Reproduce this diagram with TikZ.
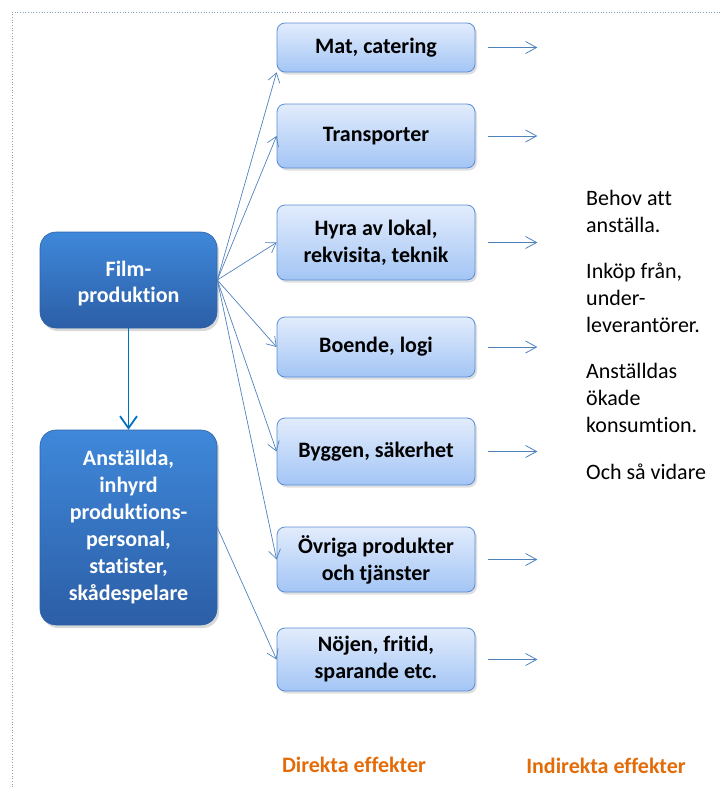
\documentclass[tikz,border=0pt]{standalone}
\usepackage{fontspec}
\setmainfont{Carlito}[Ligatures={NoCommon}]
\usetikzlibrary{arrows.meta,shadows}
\definecolor{linkblue}{HTML}{4F81BD}
\definecolor{downblue}{HTML}{0070C0}
\definecolor{lighttop}{HTML}{E2ECFC}
\definecolor{lightbot}{HTML}{A3C5F5}
\definecolor{lightedge}{HTML}{5A8ED3}
\definecolor{darktop}{HTML}{3F88DA}
\definecolor{darkbot}{HTML}{2C5EA6}
\definecolor{darkedge}{HTML}{2E62A8}
\definecolor{orangetxt}{HTML}{E36C09}
\definecolor{framecol}{HTML}{8A9DB8}
\begin{document}
\begin{tikzpicture}[x=1pt,y=-1pt,
  every node/.style={font=\fontsize{22}{27}\selectfont},
  lightbox/.style={rectangle, rounded corners=8pt, draw=lightedge, line width=0.8pt,
    top color=lighttop, bottom color=lightbot, minimum width=198pt, inner sep=0pt,
    align=center, font=\fontsize{22}{27}\selectfont\bfseries,
    drop shadow={opacity=0.25, shadow xshift=2pt, shadow yshift=-2.5pt}},
  darkbox/.style={rectangle, rounded corners=16pt, draw=darkedge, line width=0.6pt,
    top color=darktop, bottom color=darkbot, minimum width=177pt, inner sep=0pt,
    align=center, text=white, font=\fontsize{22}{27}\selectfont\bfseries,
    drop shadow={opacity=0.3, shadow xshift=2pt, shadow yshift=-3pt}},
  fan/.style={draw=linkblue, line width=0.7pt, -{Straight Barb[length=9pt,width=12pt,line width=0.7pt]}},
  outarrow/.style={draw=linkblue, line width=0.8pt, -{Straight Barb[length=11pt,width=12pt,line width=0.8pt]}},
  downarrow/.style={draw=downblue, line width=1.8pt, -{Straight Barb[length=12pt,width=17pt,line width=1.8pt]}},
  sidetext/.style={align=left, anchor=north west, inner sep=0pt, font=\fontsize{22}{26.7}\selectfont},
  effect/.style={text=orangetxt, font=\fontsize{22}{27}\selectfont\bfseries, inner sep=0pt}
]
\useasboundingbox (0,0) rectangle (721,787);
% dotted frame
\draw[framecol, line width=0.7pt, dotted] (12,787) -- (12,12) -- (721,12);

% light boxes
\node[lightbox, minimum height=49pt] (mat) at (376,47.5) {Mat, catering};
\node[lightbox, minimum height=64pt] (trans) at (376,136) {Transporter};
\node[lightbox, minimum height=75pt] (hyra) at (376,242.5) {Hyra av lokal,\\rekvisita, teknik};
\node[lightbox, minimum height=60pt] (boende) at (376,347) {Boende, logi};
\node[lightbox, minimum height=67pt] (byggen) at (376,451.5) {Byggen, säkerhet};
\node[lightbox, minimum height=65pt] (ovriga) at (376,559.5) {Övriga produkter\\och tjänster};
\node[lightbox, minimum height=63pt] (nojen) at (376,659.5) {Nöjen, fritid,\\sparande etc.};

% dark boxes
\node[darkbox, minimum height=96pt] (film) at (128.5,280) {};
\node[text=white, font=\fontsize{22}{26}\selectfont\bfseries, align=center, inner sep=0pt] (filmtxt) at (128.5,284) {Film-\\produktion};
\node[darkbox, minimum height=195pt] (anst) at (128.5,527.5) {Anställda,\\inhyrd\\produktions-\\personal,\\statister,\\skådespelare};

% fan arrows
\draw[fan] (film.east) -- (mat.south west);
\draw[fan] (film.east) -- (trans.west);
\draw[fan] (film.east) -- (hyra.west);
\draw[fan] (film.east) -- (boende.west);
\draw[fan] (film.east) -- (byggen.west);
\draw[fan] (film.east) -- (ovriga.west);
\draw[fan] (anst.east) -- (nojen.west);
\draw[downarrow] (film.south) -- (anst.north);

% outgoing arrows
\foreach \b in {mat,trans,hyra,boende,byggen,ovriga,nojen}{
  \coordinate (\b-s) at ([xshift=13pt]\b.east);
  \coordinate (\b-e) at ([xshift=62pt]\b.east);
  \draw[outarrow] (\b-s) -- (\b-e);
}

% side text
\node[sidetext] (side) at (586,190) {Behov att\\anställa.\\[20pt]Inköp från,\\under-\\leverantörer.\\[20pt]Anställdas\\ökade\\konsumtion.\\[20pt]Och så vidare};

% effect labels
\node[effect] (dir) at (354,765) {Direkta effekter};
\node[effect] (ind) at (606,766) {Indirekta effekter};
\end{tikzpicture}
\end{document}
